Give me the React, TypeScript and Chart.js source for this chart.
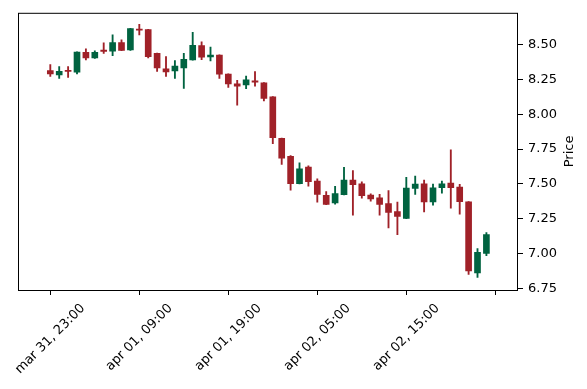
import React, { useEffect, useRef } from 'react';
import { Chart, registerables } from 'chart.js';
Chart.register(...registerables);

const opens = [8.313, 8.282, 8.313, 8.301, 8.443, 8.403, 8.46, 8.452, 8.514, 8.46, 8.609, 8.607, 8.436, 8.325, 8.31, 8.332, 8.389, 8.491, 8.41, 8.424, 8.287, 8.218, 8.209, 8.239, 8.225, 8.124, 7.827, 7.697, 7.501, 7.621, 7.52, 7.418, 7.364, 7.423, 7.527, 7.501, 7.42, 7.399, 7.359, 7.302, 7.252, 7.467, 7.501, 7.371, 7.472, 7.506, 7.477, 7.371, 6.861, 7.001];
const highs = [8.356, 8.342, 8.342, 8.447, 8.469, 8.455, 8.512, 8.569, 8.533, 8.616, 8.644, 8.609, 8.438, 8.413, 8.384, 8.436, 8.587, 8.519, 8.481, 8.426, 8.289, 8.242, 8.273, 8.306, 8.227, 8.126, 7.829, 7.702, 7.65, 7.629, 7.536, 7.444, 7.482, 7.619, 7.596, 7.515, 7.428, 7.425, 7.451, 7.369, 7.546, 7.555, 7.527, 7.499, 7.52, 7.745, 7.496, 7.373, 7.035, 7.151];
const lows = [8.271, 8.256, 8.264, 8.289, 8.389, 8.4, 8.436, 8.42, 8.455, 8.458, 8.569, 8.403, 8.306, 8.271, 8.256, 8.185, 8.387, 8.391, 8.381, 8.256, 8.192, 8.065, 8.183, 8.2, 8.095, 7.788, 7.639, 7.454, 7.499, 7.484, 7.369, 7.35, 7.354, 7.421, 7.276, 7.397, 7.376, 7.276, 7.184, 7.136, 7.25, 7.425, 7.298, 7.347, 7.433, 7.326, 7.283, 6.85, 6.829, 6.985];
const closes = [8.289, 8.308, 8.306, 8.445, 8.403, 8.443, 8.45, 8.514, 8.457, 8.614, 8.602, 8.413, 8.332, 8.303, 8.344, 8.393, 8.493, 8.408, 8.424, 8.287, 8.216, 8.2, 8.246, 8.23, 8.112, 7.832, 7.685, 7.501, 7.607, 7.515, 7.425, 7.352, 7.43, 7.527, 7.494, 7.415, 7.392, 7.352, 7.295, 7.266, 7.47, 7.499, 7.371, 7.472, 7.501, 7.472, 7.373, 6.876, 7.009, 7.136];

const xTickIndex = [0, 10, 20, 30, 40, 50];
const xTickLabels = ['mar 31, 23:00', 'apr 01, 09:00', 'apr 01, 19:00', 'apr 02, 05:00', 'apr 02, 15:00', ''];
const yTicks = [6.75, 7.0, 7.25, 7.5, 7.75, 8.0, 8.25, 8.5];

const UP = '#006340';
const DOWN = '#A02128';
const FONT = '"DejaVu Sans", sans-serif';
const FS = 13;

export default function App() {
  const ref = useRef<HTMLCanvasElement>(null);
  useEffect(() => {
    document.body.style.margin = '0';
    const colors = closes.map((c, i) => (c >= opens[i] ? UP : DOWN));
    const idx = closes.map((_, i) => i);

    const framePlugin = {
      id: 'frame',
      afterDraw(chart: any) {
        const { ctx, chartArea: a, scales } = chart;
        ctx.save();
        ctx.strokeStyle = '#000';
        ctx.lineWidth = 1;
        ctx.strokeRect(a.left + 0.5, a.top + 0.5, a.right - a.left - 1, a.bottom - a.top);
        const xs = scales.x;
        ctx.beginPath();
        xTickIndex.forEach((v) => {
          const px = Math.round(xs.getPixelForValue(v)) + 0.5;
          ctx.moveTo(px, a.bottom);
          ctx.lineTo(px, a.bottom + 5);
        });
        ctx.stroke();
        ctx.font = `${FS}px ${FONT}`;
        ctx.fillStyle = '#000';
        ctx.textAlign = 'center';
        ctx.textBaseline = 'middle';
        xTickLabels.forEach((t, k) => {
          if (!t) return;
          const px = xs.getPixelForValue(xTickIndex[k]);
          const w = ctx.measureText(t).width;
          const h = FS * 1.164;
          const bh = (w + h) / Math.SQRT2;
          ctx.save();
          ctx.translate(px, a.bottom + 11 + bh / 2);
          ctx.rotate(-Math.PI / 4);
          ctx.fillText(t, 0, 0);
          ctx.restore();
        });
        ctx.save();
        ctx.translate(570, (a.top + a.bottom) / 2);
        ctx.rotate(-Math.PI / 2);
        ctx.fillText('Price', 0, 0);
        ctx.restore();
        ctx.restore();
      },
    };

    const chart = new Chart(ref.current!, {
      type: 'bar',
      data: {
        datasets: [
          {
            label: 'body',
            data: idx.map((i) => ({ x: i, y: [opens[i], closes[i]] })) as any,
            backgroundColor: colors,
            borderWidth: 0,
            barThickness: 6,
            minBarLength: 1.2,
            grouped: false,
            order: 0,
          } as any,
          {
            label: 'wick',
            data: idx.map((i) => ({ x: i, y: [lows[i], highs[i]] })) as any,
            backgroundColor: colors,
            borderWidth: 0,
            barThickness: 1.2,
            grouped: false,
            order: 1,
          } as any,
        ],
      },
      options: {
        animation: false,
        responsive: false,
        devicePixelRatio: 1,
        layout: { padding: { left: 18, top: 10, right: 0, bottom: 0 } },
        plugins: { legend: { display: false }, tooltip: { enabled: false } },
        scales: {
          x: {
            type: 'linear',
            min: -3.63,
            max: 52.55,
            offset: false,
            grid: { display: false },
            border: { display: false },
            ticks: { display: false },
            afterFit: (s: any) => {
              s.height = 99;
            },
          },
          y: {
            type: 'linear',
            position: 'right',
            min: 6.7387,
            max: 8.727,
            grid: { display: true, drawOnChartArea: false, drawTicks: true, tickLength: 5, color: '#000', lineWidth: 1 },
            border: { display: false },
            afterBuildTicks: (s: any) => {
              s.ticks = yTicks.map((v) => ({ value: v }));
            },
            ticks: {
              color: '#000',
              font: { family: FONT, size: FS },
              padding: 5,
              callback: (v: any) => Number(v).toFixed(2),
            },
            afterFit: (s: any) => {
              s.width = 69;
            },
          },
        },
      },
      plugins: [framePlugin],
    });
    return () => chart.destroy();
  }, []);
  return (
    <div style={{ width: 587, height: 389 }}>
      <canvas ref={ref} width={587} height={389} style={{ display: 'block' }} />
    </div>
  );
}
